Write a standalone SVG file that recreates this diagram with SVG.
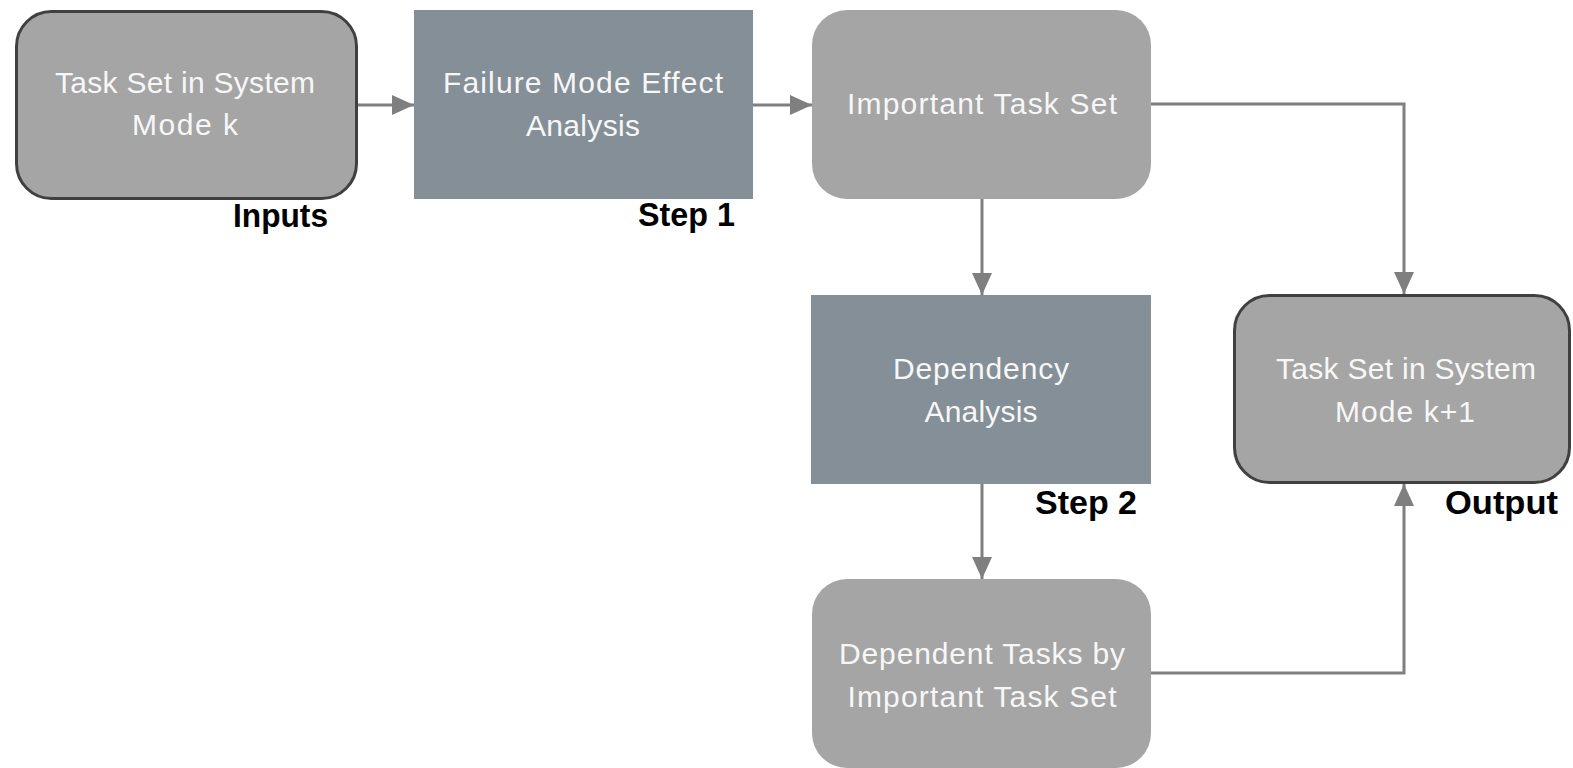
<svg xmlns="http://www.w3.org/2000/svg" width="1573" height="768" viewBox="0 0 1573 768">
  <style>
    .term { fill: #a5a5a5; stroke: #404040; stroke-width: 3; }
    .soft { fill: #a5a5a5; }
    .step { fill: #848f97; }
    .lbl { font-family: "Liberation Sans", Arial, sans-serif; font-size: 30px; fill: #f7f7f7; text-anchor: middle; }
    .tag { font-family: "Liberation Sans", Arial, sans-serif; font-size: 34px; font-weight: bold; fill: #000000; }
    .wire { fill: none; stroke: #7f7f7f; stroke-width: 3; }
  </style>
  <defs>
    <marker id="arrow" markerUnits="userSpaceOnUse" markerWidth="22" markerHeight="20" refX="22" refY="10" orient="auto">
      <path d="M0,0 L22,10 L0,20 Z" fill="#7f7f7f"/>
    </marker>
  </defs>
  <rect width="1573" height="768" fill="#ffffff"/>

  <g id="connectors">
    <line class="wire" x1="358" y1="105" x2="414" y2="105" marker-end="url(#arrow)"/>
    <line class="wire" x1="753" y1="105" x2="812" y2="105" marker-end="url(#arrow)"/>
    <line class="wire" x1="982" y1="199" x2="982" y2="295" marker-end="url(#arrow)"/>
    <polyline class="wire" points="1151,104 1404,104 1404,294" marker-end="url(#arrow)"/>
    <line class="wire" x1="982" y1="484" x2="982" y2="579" marker-end="url(#arrow)"/>
    <polyline class="wire" points="1151,673 1404,673 1404,484" marker-end="url(#arrow)"/>
  </g>

  <g id="input-node">
    <rect class="term" x="16.5" y="11.5" width="340" height="187" rx="35" ry="35"/>
    <text class="lbl" x="185" y="93" textLength="260" lengthAdjust="spacing">Task Set in System</text>
    <text class="lbl" x="185" y="135" textLength="106" lengthAdjust="spacing">Mode k</text>
  </g>

  <g id="fmea-node">
    <rect class="step" x="414" y="10" width="339" height="189"/>
    <text class="lbl" x="583" y="93" textLength="280" lengthAdjust="spacing">Failure Mode Effect</text>
    <text class="lbl" x="583" y="136" textLength="114" lengthAdjust="spacing">Analysis</text>
  </g>

  <g id="important-node">
    <rect class="soft" x="812" y="10" width="339" height="189" rx="35" ry="35"/>
    <text class="lbl" x="982" y="114" textLength="270" lengthAdjust="spacing">Important Task Set</text>
  </g>

  <g id="dependency-node">
    <rect class="step" x="811" y="295" width="340" height="189"/>
    <text class="lbl" x="981" y="379" textLength="176" lengthAdjust="spacing">Dependency</text>
    <text class="lbl" x="981" y="422" textLength="113" lengthAdjust="spacing">Analysis</text>
  </g>

  <g id="output-node">
    <rect class="term" x="1234.5" y="295.5" width="335" height="187" rx="35" ry="35"/>
    <text class="lbl" x="1406" y="379" textLength="260" lengthAdjust="spacing">Task Set in System</text>
    <text class="lbl" x="1405" y="422" textLength="140" lengthAdjust="spacing">Mode k+1</text>
  </g>

  <g id="dependent-node">
    <rect class="soft" x="812" y="579" width="339" height="189" rx="35" ry="35"/>
    <text class="lbl" x="982" y="664" textLength="286" lengthAdjust="spacing">Dependent Tasks by</text>
    <text class="lbl" x="982" y="707" textLength="269" lengthAdjust="spacing">Important Task Set</text>
  </g>

  <g id="stage-labels">
    <text class="tag" x="233" y="227" textLength="95" lengthAdjust="spacingAndGlyphs">Inputs</text>
    <text class="tag" x="638" y="226" textLength="97" lengthAdjust="spacingAndGlyphs">Step 1</text>
    <text class="tag" x="1035" y="514" textLength="102" lengthAdjust="spacingAndGlyphs">Step 2</text>
    <text class="tag" x="1445" y="514" textLength="113" lengthAdjust="spacingAndGlyphs">Output</text>
  </g>
</svg>
